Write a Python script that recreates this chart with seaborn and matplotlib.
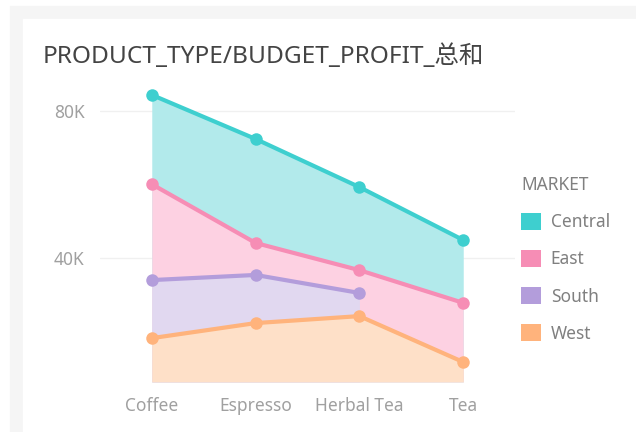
import matplotlib
matplotlib.use("Agg")
import matplotlib.pyplot as plt
from matplotlib.patches import Patch, Rectangle
import seaborn as sns
import pandas as pd
import numpy as np

# data (values in thousands)
products = ['Coffee', 'Espresso', 'Herbal Tea', 'Tea']
markets = ['Central', 'East', 'South', 'West']
central = [84.4, 72.4, 59.3, 44.9]
east = [60.1, 44.1, 36.7, 27.8]
south = [34.0, 35.4, 30.5]          # no Tea value
west = [18.2, 22.3, 24.2, 11.7]

line_colors = ['#3ecfcf', '#f68db5', '#b39ddb', '#ffb37c']
fill_colors = ['#b2eaeb', '#fdd1e2', '#e1d8f0', '#fee0c8']

series = {'Central': central, 'East': east, 'South': south, 'West': west}
rows = []
for m in markets:
    for i, v in enumerate(series[m]):
        rows.append({'PRODUCT_TYPE': products[i], 'pos': i, 'MARKET': m, 'BUDGET_PROFIT': v * 1000})
df = pd.DataFrame(rows)

sns.set_style("white")
plt.rcParams['font.family'] = ['Noto Sans', 'Noto Sans CJK SC', 'DejaVu Sans']

fig = plt.figure(figsize=(6.36, 4.32), dpi=100)
fig.patches.append(Rectangle((10 / 636, 0), 1, 426 / 432, transform=fig.transFigure,
                             color='#f5f5f5', zorder=-10))
fig.patches.append(Rectangle((23 / 636, 0), 1, 413 / 432, transform=fig.transFigure,
                             color='white', zorder=-9))
ax = fig.add_axes([0.157, 0.116, 0.653, 0.678])
ax.patch.set_alpha(0)

ymin = 6300
for m, fc in zip(markets, fill_colors):
    d = df[df['MARKET'] == m]
    ax.fill_between(d['pos'], ymin, d['BUDGET_PROFIT'], color=fc, lw=0, zorder=1)

sns.lineplot(data=df, x='pos', y='BUDGET_PROFIT', hue='MARKET', hue_order=markets,
             palette=line_colors, marker='o', markersize=9, markeredgewidth=0,
             linewidth=3, legend=False, ax=ax, zorder=3)

ax.set_xlim(-0.5, 3.5)
ax.set_ylim(ymin, 86000)
ax.set_xticks(range(len(products)))
ax.set_xticklabels(products)
ax.set_yticks([40000, 80000])
ax.set_yticklabels(['40K', '80K'])
ax.yaxis.grid(True, color='#f0f0f0', lw=1)
ax.set_axisbelow(True)
ax.tick_params(axis='both', length=0, labelsize=12.5, labelcolor='#a0a0a0')
ax.tick_params(axis='x', pad=11)
ax.tick_params(axis='y', pad=11)
ax.set_xlabel('')
ax.set_ylabel('')
for s in ax.spines.values():
    s.set_visible(False)

fig.text(43 / 636, 1 - 57 / 432, 'PRODUCT_TYPE/BUDGET_PROFIT_总和', fontsize=17.6,
         color='#444444', va='center', ha='left')

handles = [Patch(facecolor=c, edgecolor='none') for c in line_colors]
leg = fig.legend(handles, markets, title='MARKET', loc='upper left',
                 bbox_to_anchor=(0.795, 0.628), frameon=False, handlelength=1.15,
                 handleheight=1.15, handletextpad=0.55, labelspacing=1.07,
                 fontsize=12.5, title_fontsize=12.5, alignment='left')
for t in leg.get_texts():
    t.set_color('#808080')
leg.get_title().set_color('#808080')

plt.savefig('out.png', dpi=100)
